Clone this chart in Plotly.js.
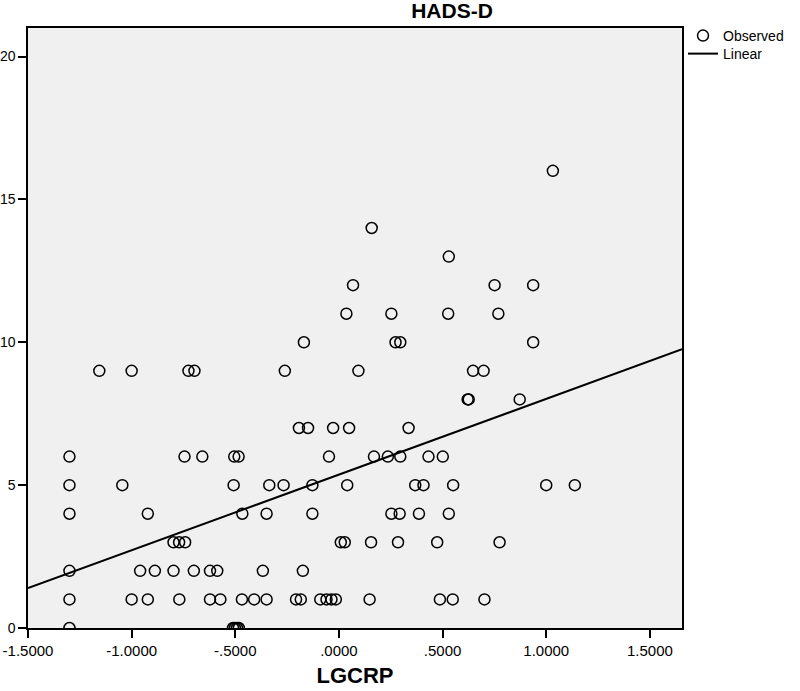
<!DOCTYPE html>
<html>
<head>
<meta charset="utf-8">
<script src="https://cdn.plot.ly/plotly-3.0.1.min.js"></script>
<style>
  body { margin: 0; background: #fff; }
  #chart { width: 800px; height: 691px; }
</style>
</head>
<body>
<div id="chart"></div>
<script>
// LGCRP (x) and HADS-D (y) for each observed case
const lgcrp = [
    -1.300, -0.511, -0.502, -0.492, -0.483,
    -1.300, -1.000, -0.922, -0.770, -0.622, -0.572, -0.468, -0.409, -0.349, -0.207,
    -0.184, -0.090, -0.060, -0.036, -0.015, 0.148, 0.487, 0.549, 0.702,
    -1.300, -0.959, -0.888, -0.798, -0.700, -0.622, -0.587, -0.367, -0.174,
    -0.798, -0.771, -0.742, 0.009, 0.028, 0.155, 0.285, 0.474, 0.775,
    -1.300, -0.922, -0.466, -0.349, -0.128, 0.253, 0.293, 0.386, 0.530,
    -1.300, -1.045, -0.508, -0.336, -0.267, -0.128, 0.040, 0.368, 0.408, 0.551, 1.000, 1.138,
    -1.300, -0.745, -0.659, -0.505, -0.484, -0.048, 0.169, 0.236, 0.296, 0.432, 0.501,
    -0.193, -0.149, -0.028, 0.049, 0.336,
    0.621, 0.626, 0.872,
    -1.156, -1.000, -0.726, -0.697, -0.261, 0.094, 0.647, 0.698,
    -0.169, 0.273, 0.296, 0.937,
    0.036, 0.253, 0.527, 0.769,
    0.068, 0.751, 0.937,
    0.530,
    0.158,
    1.032
];
const hadsD = [
    0, 0, 0, 0, 0,
    1, 1, 1, 1, 1, 1, 1, 1, 1, 1,
    1, 1, 1, 1, 1, 1, 1, 1, 1,
    2, 2, 2, 2, 2, 2, 2, 2, 2,
    3, 3, 3, 3, 3, 3, 3, 3, 3,
    4, 4, 4, 4, 4, 4, 4, 4, 4,
    5, 5, 5, 5, 5, 5, 5, 5, 5, 5, 5, 5,
    6, 6, 6, 6, 6, 6, 6, 6, 6, 6, 6,
    7, 7, 7, 7, 7,
    8, 8, 8,
    9, 9, 9, 9, 9, 9, 9, 9,
    10, 10, 10, 10,
    11, 11, 11, 11,
    12, 12, 12,
    13,
    14,
    16
];

// linear fit as drawn
const fitIntercept = 5.37;
const fitSlope = 2.65;

const xRange = [-1.5, 1.655];
const yRange = [0, 21];
const xTickVals = [-1.5, -1.0, -0.5, 0, 0.5, 1.0, 1.5];
const xTickText = ['-1.5000', '-1.0000', '-.5000', '.0000', '.5000', '1.0000', '1.5000'];
const yTickVals = [0, 5, 10, 15, 20];

const observed = {
    x: lgcrp,
    y: hadsD,
    name: 'Observed',
    type: 'scatter',
    mode: 'markers',
    marker: { symbol: 'circle-open', size: 11, color: '#000', line: { width: 1.5 } },
    legend: 'legend',
    hoverinfo: 'x+y'
};

const linear = {
    x: xRange,
    y: xRange.map(x => fitIntercept + fitSlope * x),
    name: 'Linear',
    type: 'scatter',
    mode: 'lines',
    line: { color: '#000', width: 2 },
    legend: 'legend2'
};

// one legend box per entry so the rows sit a bit closer than plotly's default
const legendBase = {
    x: 1.0, xanchor: 'left', yanchor: 'top',
    bgcolor: 'rgba(0,0,0,0)', borderwidth: 0,
    font: { size: 14 }
};

const layout = {
    width: 800,
    height: 691,
    margin: { l: 28, r: 117, t: 28, b: 63 },
    paper_bgcolor: '#fff',
    plot_bgcolor: '#f0f0f0',
    font: { family: 'Liberation Sans, Arial, sans-serif', size: 15, color: '#000' },
    title: {
        text: '<b>HADS-D</b>',
        xref: 'container', x: 0.565, xanchor: 'center',
        yref: 'container', y: 0.985, yanchor: 'middle',
        font: { size: 21 }
    },
    xaxis: {
        range: xRange,
        tickvals: xTickVals,
        ticktext: xTickText,
        ticks: 'outside', ticklen: 8, tickwidth: 1.5, tickcolor: '#000',
        showline: true, mirror: true, linecolor: '#000', linewidth: 1.5,
        showgrid: false, zeroline: false,
        title: { text: '<b>LGCRP</b>', font: { size: 22 }, standoff: 10 }
    },
    yaxis: {
        range: yRange,
        tickvals: yTickVals,
        tickfont: { size: 14 },
        ticks: 'outside', ticklen: 8, tickwidth: 1.5, tickcolor: '#000',
        showline: true, mirror: true, linecolor: '#000', linewidth: 1.5,
        showgrid: false, zeroline: false
    },
    legend: Object.assign({}, legendBase, { y: 1.0133 }),
    legend2: Object.assign({}, legendBase, { y: 0.9833 }),
    showlegend: true
};

Plotly.newPlot('chart', [observed, linear], layout, { displayModeBar: false });
</script>
</body>
</html>
